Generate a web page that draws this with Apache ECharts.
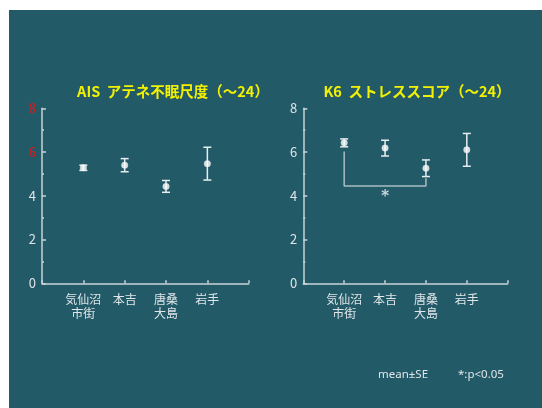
<!DOCTYPE html>
<html>
<head>
<meta charset="utf-8">
<script src="https://cdn.jsdelivr.net/npm/echarts@6/dist/echarts.min.js"></script>
<style>
  html, body { margin: 0; padding: 0; background: #ffffff; }
  #chart { position: absolute; left: 9px; top: 10px; width: 533px; height: 398px; }
</style>
</head>
<body>
<div id="chart"></div>
<script>
// Regions (x positions 1..4 on each panel)
const regions = ['気仙沼\n市街', '本吉', '唐桑\n大島', '岩手'];

// AIS (Athens Insomnia Scale): mean and standard error
const aisMean = [5.28, 5.40, 4.43, 5.47];
const aisSE   = [0.12, 0.30, 0.27, 0.75];

// K6 stress score: mean and standard error
const k6Mean = [6.42, 6.18, 5.26, 6.10];
const k6SE   = [0.18, 0.36, 0.38, 0.75];

// Significance bracket between 気仙沼市街 and 唐桑大島 (K6)
const bracketPath = [[1, 6.02], [1, 4.45], [3, 4.45], [3, 4.80]];
const starPos = [2, 3.96];

const yTicks = [0, 2, 4, 6, 8];

const BG = '#235a68';
const AXIS = '#c9d3d7';
const LABEL = '#dfe5e8';
const FONT = '"Noto Sans CJK JP", "Noto Sans", sans-serif';

const chart = echarts.init(document.getElementById('chart'), null, { renderer: 'canvas' });

function xAxisFor(gridIndex) {
  return {
    gridIndex, type: 'value', min: 0, max: 5, interval: 1,
    axisLine: { show: true, lineStyle: { color: AXIS, width: 1.5 } },
    axisTick: { show: true, inside: true, length: 3, lineStyle: { color: AXIS, width: 1.5 } },
    splitLine: { show: false },
    axisLabel: {
      margin: 9, color: LABEL, fontSize: 12, fontFamily: FONT, lineHeight: 14,
      verticalAlign: 'top',
      formatter: v => (v >= 1 && v <= 4) ? regions[v - 1] : ''
    }
  };
}

function yAxisFor(gridIndex, redTop) {
  return {
    gridIndex, type: 'value', min: yTicks[0], max: yTicks[yTicks.length - 1], interval: 2,
    axisLine: { show: true, lineStyle: { color: AXIS, width: 1.5 } },
    axisTick: { show: true, inside: true, length: 4, lineStyle: { color: AXIS, width: 1.5 } },
    minorTick: { show: true, splitNumber: 2, length: 2, lineStyle: { color: AXIS, width: 1.5 } },
    splitLine: { show: false },
    axisLabel: {
      margin: 6, fontSize: 13, fontFamily: FONT,
      color: v => (redTop && Number(v) >= 6) ? '#d21f1f' : LABEL
    }
  };
}

function errorSeries(idx, means, ses) {
  return {
    type: 'custom', xAxisIndex: idx, yAxisIndex: idx, z: 3,
    data: means.map((m, i) => [i + 1, m - ses[i], m + ses[i]]),
    renderItem: (params, api) => {
      const lo = api.coord([api.value(0), api.value(1)]);
      const hi = api.coord([api.value(0), api.value(2)]);
      const hw = 4;
      const style = { stroke: '#e8eef0', lineWidth: 1.5 };
      return {
        type: 'group',
        children: [
          { type: 'line', shape: { x1: lo[0], y1: lo[1], x2: hi[0], y2: hi[1] }, style },
          { type: 'line', shape: { x1: lo[0] - hw, y1: lo[1], x2: lo[0] + hw, y2: lo[1] }, style },
          { type: 'line', shape: { x1: hi[0] - hw, y1: hi[1], x2: hi[0] + hw, y2: hi[1] }, style }
        ]
      };
    }
  };
}

function meanSeries(idx, means) {
  return {
    type: 'scatter', xAxisIndex: idx, yAxisIndex: idx, z: 4,
    symbol: 'circle', symbolSize: 6.5,
    itemStyle: { color: '#ffffff', borderColor: '#dfe6e8', borderWidth: 0.5 },
    data: means.map((m, i) => [i + 1, m])
  };
}

const option = {
  backgroundColor: BG,
  animation: false,
  title: [
    {
      text: 'AIS  アテネ不眠尺度（～24）',
      left: 159, top: 76, textAlign: 'center', textVerticalAlign: 'middle',
      textStyle: { color: '#f2f200', fontSize: 14.5, fontWeight: 'bold', fontFamily: FONT }
    },
    {
      text: 'K6  ストレススコア（～24）',
      left: 403, top: 76, textAlign: 'center', textVerticalAlign: 'middle',
      textStyle: { color: '#f2f200', fontSize: 14.5, fontWeight: 'bold', fontFamily: FONT }
    }
  ],
  grid: [
    { left: 33, top: 98.3, width: 206.7, height: 175 },
    { left: 294.3, top: 98.3, width: 204.4, height: 175 }
  ],
  xAxis: [xAxisFor(0), xAxisFor(1)],
  yAxis: [yAxisFor(0, true), yAxisFor(1, false)],
  series: [
    errorSeries(0, aisMean, aisSE),
    meanSeries(0, aisMean),
    errorSeries(1, k6Mean, k6SE),
    meanSeries(1, k6Mean),
    {
      type: 'line', xAxisIndex: 1, yAxisIndex: 1, z: 2,
      symbol: 'none',
      lineStyle: { color: '#a9bcc2', width: 1.5 },
      data: bracketPath
    },
    {
      type: 'scatter', xAxisIndex: 1, yAxisIndex: 1, z: 2,
      symbolSize: 0,
      label: {
        show: true, position: 'inside', formatter: '*',
        color: '#eef2f3', fontSize: 15, fontWeight: 'bold', fontFamily: '"DejaVu Sans", sans-serif'
      },
      data: [starPos]
    }
  ],
  graphic: [
    {
      type: 'text', left: 369, top: 359,
      style: { text: 'mean±SE', fill: LABEL, font: '11.5px "Noto Sans", sans-serif' }
    },
    {
      type: 'text', left: 449, top: 359,
      style: { text: '*:p<0.05', fill: LABEL, font: '11.5px "Noto Sans", sans-serif' }
    }
  ]
};

chart.setOption(option);
</script>
</body>
</html>
